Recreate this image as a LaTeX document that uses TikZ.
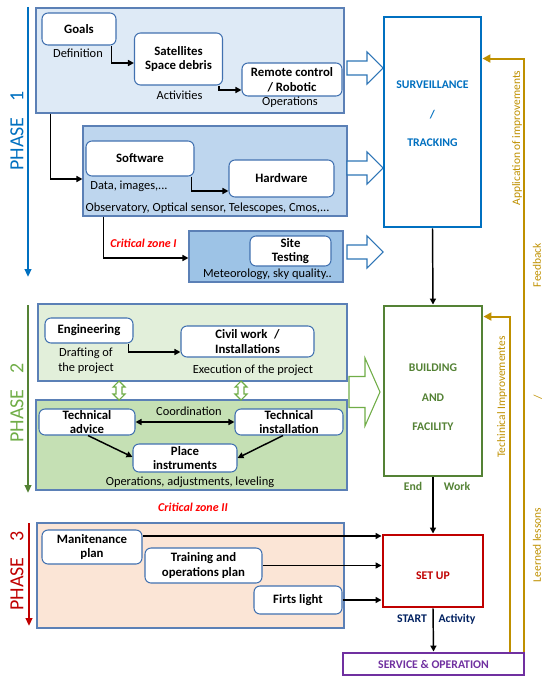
\documentclass[tikz,border=0pt]{standalone}
\usepackage{fontspec}
\setmainfont{Carlito}
\usetikzlibrary{arrows.meta,calc}
\definecolor{phb}{RGB}{91,128,182}
\definecolor{ndb}{RGB}{65,113,176}
\definecolor{pAfill}{RGB}{222,234,246}
\definecolor{swfill}{RGB}{190,214,238}
\definecolor{sitefill}{RGB}{157,195,230}
\definecolor{pBfill}{RGB}{226,239,218}
\definecolor{pCfill}{RGB}{197,224,180}
\definecolor{pDfill}{RGB}{251,229,214}
\definecolor{cblue}{RGB}{0,112,192}
\definecolor{hblue}{RGB}{46,117,182}
\definecolor{cgreen}{RGB}{84,130,53}
\definecolor{lgreen}{RGB}{112,173,71}
\definecolor{cred}{RGB}{192,0,0}
\definecolor{bred}{RGB}{255,0,0}
\definecolor{cpurple}{RGB}{112,48,160}
\definecolor{cgold}{RGB}{191,144,0}
\definecolor{cnavy}{RGB}{0,32,96}
\begin{document}
\begin{tikzpicture}[x=0.75pt,y=-0.75pt,
  rect/.style n args={4}{minimum width={(#3-#1)*0.75pt}, minimum height={(#4-#2)*0.75pt}, at={({(#1+#3)/2},{(#2+#4)/2})}, anchor=center},
  nd/.style={draw=ndb, fill=white, rounded corners=4.5pt, line width=0.8pt, inner sep=0pt, align=center, font=\fontsize{9.6}{11}\selectfont\bfseries},
  ph/.style={draw=phb, line width=0.8pt, inner sep=0pt},
  big/.style={line width=2.2pt, inner sep=0pt, fill=white},
  lbl/.style={font=\fontsize{9.3}{11.2}\selectfont, inner sep=0pt, align=center},
  blbl/.style={font=\fontsize{8.8}{11}\selectfont\bfseries, inner sep=0pt},
  crit/.style={font=\fontsize{9}{11}\selectfont\bfseries\itshape, text=bred, inner sep=0pt},
  plbl/.style={font=\fontsize{15}{17}\selectfont, inner sep=0pt, rotate=90},
  glbl/.style={font=\fontsize{8.6}{11}\selectfont, text=cgold, inner sep=0pt, rotate=90},
  arr/.style={line width=1.1pt, -{Triangle[length=4.5pt,width=4.5pt]}},
  darr/.style={line width=1.1pt, {Triangle[length=4.5pt,width=4.5pt]}-{Triangle[length=4.5pt,width=4.5pt]}},
  parr/.style={line width=1.6pt, -{Triangle[length=6pt,width=5pt]}},
  garr/.style={line width=1.5pt, draw=cgold, -{Triangle[length=6pt,width=6pt]}},
  hol/.style={line width=0.8pt, fill=white}
]
\useasboundingbox (0,0) rectangle (550,681);

% ---------- phase labels ----------
\coordinate (pa1) at (28,7);  \coordinate (pa2) at (28,277);
\draw[parr, cblue] (pa1) -- (pa2);
\node[plbl, text=cblue] (phA) at (17,131) {PHASE\hspace{12pt}1};
\coordinate (pb1) at (28,305);  \coordinate (pb2) at (28,493);
\draw[parr, cgreen] (pb1) -- (pb2);
\node[plbl, text=lgreen] (phB) at (17,403) {PHASE\hspace{12pt}2};
\coordinate (pc1) at (29,523);  \coordinate (pc2) at (29,626);
\draw[parr, cred] (pc1) -- (pc2);
\node[plbl, text=cred] (phC) at (17,571) {PHASE\hspace{12pt}3};

% ---------- phase 1 ----------
\node[ph, fill=pAfill, rect={36}{8}{344}{113}] (p1) {};
\node[ph, fill=swfill, rect={83}{126}{347}{216}] (sw) {};
\node[ph, fill=sitefill, rect={189}{231}{343}{282}] (siteo) {};

\node[nd, rect={42}{13}{116}{45}] (goals) {Goals};
\node[nd, rect={134.5}{33}{222.5}{85}] (sat) {Satellites\\Space debris};
\node[nd, rect={242}{63}{342}{96}] (remote) {Remote control\\/ Robotic};
\node[lbl] (ldef) at (78,53) {Definition};
\node[lbl] (lact) at (179.5,95) {Activities};
\node[lbl] (lope) at (290,102.5) {Operations};

\node[nd, rect={86}{141}{194}{176}] (soft) {Software};
\node[nd, rect={229}{160}{334}{197}] (hard) {Hardware};
\node[lbl] (ldata) at (129,186) {Data, images,...};
\node[lbl] (lobs) at (207.5,208) {Observatory, Optical sensor, Telescopes, Cmos,...};

\node[nd, rect={250}{236}{331}{266}] (site) {Site\\Testing};
\node[lbl] (lmet) at (267.5,274) {Meteorology, sky quality..};
\node[crit] (crit1) at (143.5,243) {Critical zone I};

\draw[arr] ($(goals.south east)+(-5,0)$) |- ($(sat.west)+(0,4)$);
\draw[arr] ($(sat.south east)+(-4,0)$) |- ($(remote.west)+(0,10.5)$);
\draw[arr] ($(p1.south west)+(15,0)$) |- ($(sw.west)+(0,8)$);
\draw[arr] ($(soft.south east)+(-3,0)$) |- ($(hard.west)+(0,12.5)$);
\draw[arr] ($(sw.south west)+(21,0)$) |- ($(siteo.west)+(0,1.5)$);

% hollow arrows phase 1
\draw[hol, draw=hblue, shift={(347,68)}] (0,-7) -- (20,-7) -- (20,-16) -- (36,0) -- (20,16) -- (20,7) -- (0,7) -- cycle;
\draw[hol, draw=hblue, shift={(347,168)}] (0,-7) -- (20,-7) -- (20,-16) -- (36,0) -- (20,16) -- (20,7) -- (0,7) -- cycle;
\draw[hol, draw=hblue, shift={(347,252)}] (0,-7) -- (20,-7) -- (20,-16) -- (36,0) -- (20,16) -- (20,7) -- (0,7) -- cycle;

% ---------- phase 2 ----------
\node[ph, fill=pBfill, rect={38}{304}{347}{381}] (p2a) {};
\node[ph, fill=pCfill, rect={36}{400}{347}{490}] (p2b) {};

\node[nd, rect={45}{318}{133}{343}] (eng) {Engineering};
\node[nd, rect={181}{326}{314}{357}] (civil) {Civil work\hspace{5pt}/\\Installations};
\node[lbl] (ldraft) at (86,360.5) {Drafting of\\the project};
\node[lbl] (lexec) at (253,370) {Execution of the project};
\draw[arr] ($(eng.south east)+(-5,0)$) |- ($(civil.west)+(0,10.5)$);

\node[nd, rect={39}{409}{135}{435}] (tadv) {Technical\\advice};
\node[nd, rect={235}{409}{343}{435}] (tinst) {Technical\\installation};
\node[nd, rect={133}{444}{237}{472}] (place) {Place\\instruments};
\node[lbl] (lcoord) at (189,411) {Coordination};
\node[lbl] (lops) at (190,482) {Operations, adjustments, leveling};
\draw[darr] (tadv.east) -- (tinst.west);
\draw[arr] ($(tadv.south)+(1,0)$) -- ($(place.west)+(0,-1)$);
\draw[arr] ($(tinst.south)+(-6,0)$) -- (place.east);

% vertical double hollow arrows
\draw[hol, draw=lgreen, shift={(119,390.5)}] (0,-9.5) -- (6,-3.5) -- (3,-3.5) -- (3,3.5) -- (6,3.5) -- (0,9.5) -- (-6,3.5) -- (-3,3.5) -- (-3,-3.5) -- (-6,-3.5) -- cycle;
\draw[hol, draw=lgreen, shift={(241,390.5)}] (0,-9.5) -- (6,-3.5) -- (3,-3.5) -- (3,3.5) -- (6,3.5) -- (0,9.5) -- (-6,3.5) -- (-3,3.5) -- (-3,-3.5) -- (-6,-3.5) -- cycle;
% big green hollow arrow
\draw[hol, draw=lgreen, shift={(349,392)}] (0,-15.5) -- (16,-15.5) -- (16,-34) -- (31,0) -- (16,34) -- (16,15.5) -- (0,15.5) -- cycle;

\node[crit] (crit2) at (193,507) {Critical zone II};

% ---------- phase 3 ----------
\node[ph, fill=pDfill, rect={37}{523}{344}{628}] (p3) {};
\node[nd, rect={42}{530}{142}{564}] (maint) {Manitenance\\plan};
\node[nd, rect={145}{548}{262}{583}] (train) {Training and\\operations plan};
\node[nd, rect={254}{586}{342}{614}] (firts) {Firts light};

% ---------- right column ----------
\node[big, draw=cblue, rect={384}{17}{481}{227}] (surv) {};
\node[blbl, text=cblue] (ts1) at (432.5,85) {SURVEILLANCE};
\node[blbl, text=cblue] (ts2) at (432.5,115) {/};
\node[blbl, text=cblue] (ts3) at (432.5,143) {TRACKING};

\node[big, draw=cgreen, rect={384}{306}{482}{476}] (build) {};
\node[blbl, text=cgreen] (tb1) at (433,368) {BUILDING};
\node[blbl, text=cgreen] (tb2) at (433,398) {AND};
\node[blbl, text=cgreen] (tb3) at (433,427) {FACILITY};
\node[blbl, text=cgreen] (tend) at (413,486) {End};
\node[blbl, text=cgreen] (twork) at (457,486) {Work};

\node[big, draw=cred, rect={383}{535}{483}{607}] (setup) {};
\node[blbl, text=cred] (tsu) at (433,576) {SET UP};
\node[blbl, text=cnavy] (tstart) at (412,619) {START};
\node[blbl, text=cnavy] (tact) at (457,619) {Activity};

\node[big, draw=cpurple, rect={343}{653}{524}{675}] (serv) {};
\node[blbl, text=cpurple] (tserv) at (433.5,664) {SERVICE \& OPERATION};

\draw[arr] (surv.south) -- (build.north);
\draw[arr] (build.south) -- (setup.north);
\draw[arr] (setup.south) -- (serv.north);

\coordinate (m1) at ($(maint.east)+(0,-11)$);
\draw[arr] (m1) -- (m1 -| setup.west);
\draw[arr] (train.east) -- (train.east -| setup.west);
\draw[arr] (firts.east) -- (firts.east -| setup.west);

% feedback lines
\draw[garr] ($(serv.north east)+(-1,0)$) |- ($(surv.north east)+(0,43)$);
\draw[garr] ($(serv.north east)+(-15,0)$) |- ($(build.north east)+(0,12)$);
\node[glbl] (gapp) at (517,138) {Application of improvements};
\node[glbl] (gfeed) at (537,265) {Feedback};
\node[glbl] (gsl) at (538,397) {/};
\node[glbl] (glear) at (537,545) {Leerned lessons};
\node[glbl] (gtech) at (502,397) {Techinical Improvementes};
\end{tikzpicture}
\end{document}
